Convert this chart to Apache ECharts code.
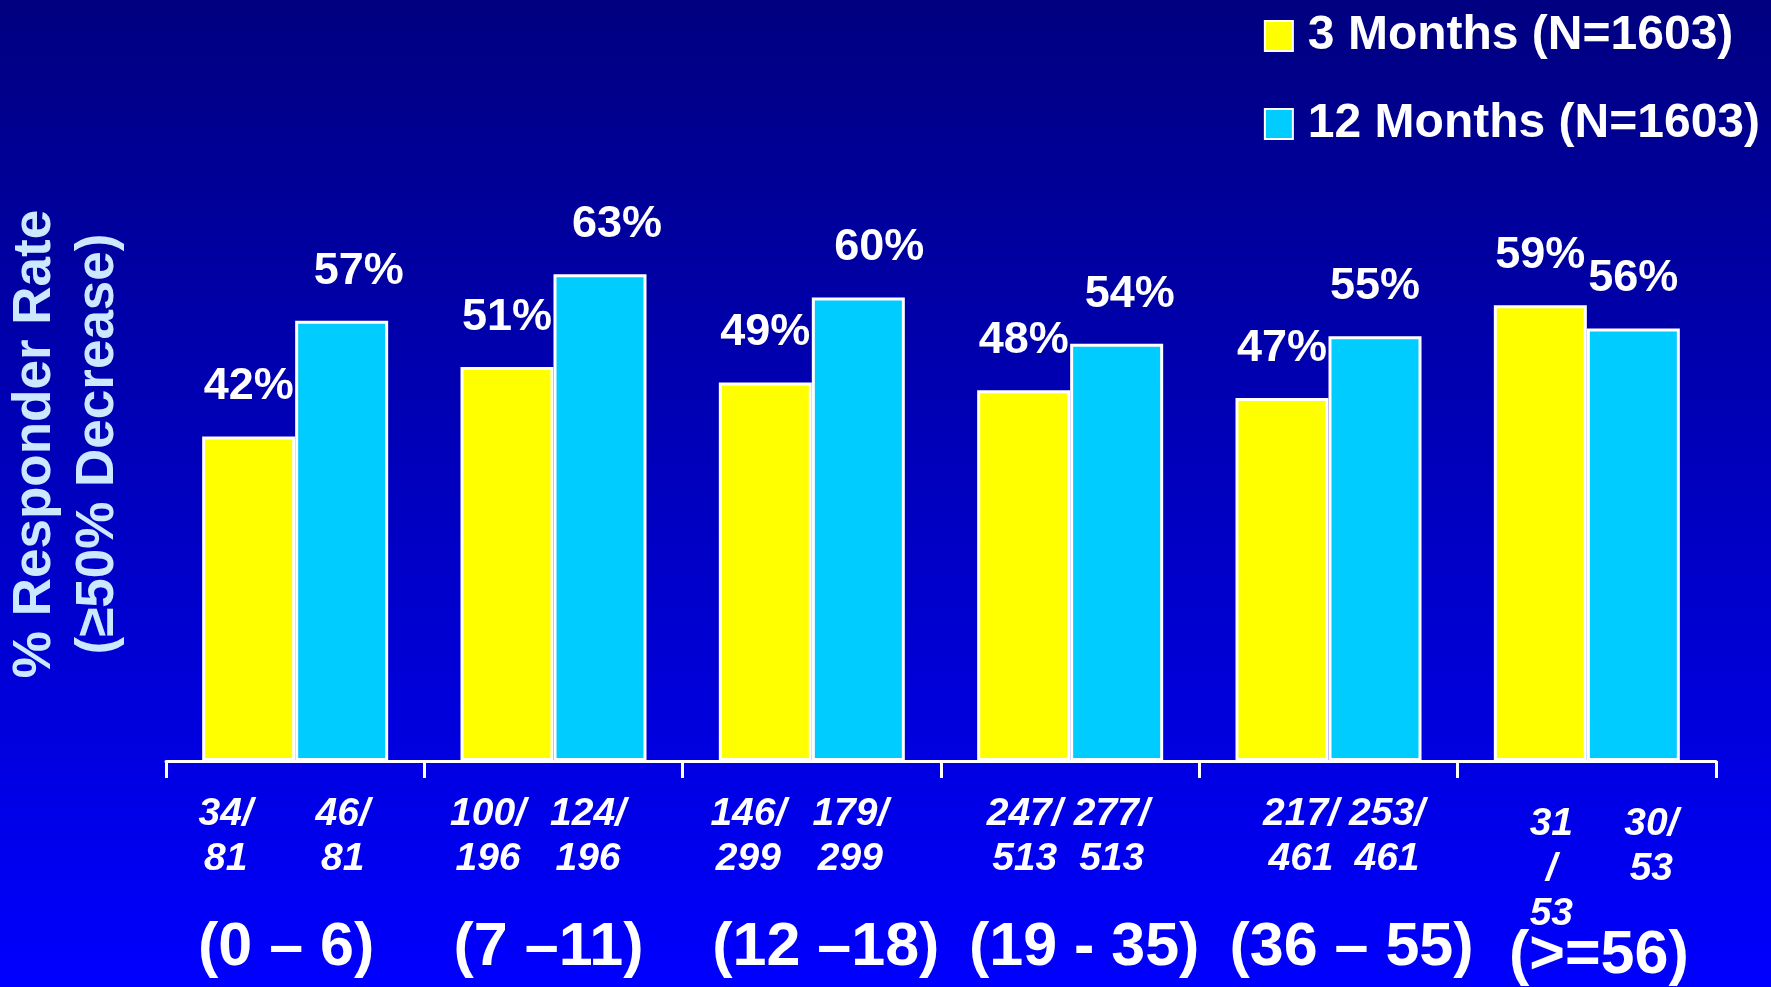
<!DOCTYPE html>
<html>
<head>
<meta charset="utf-8">
<title>% Responder Rate by Baseline Seizure Frequency</title>
<script src="https://cdn.jsdelivr.net/npm/echarts@6/dist/echarts.min.js"></script>
<style>
  html, body { margin: 0; padding: 0; width: 100%; height: 100%; overflow: hidden; background: #000080; }
  #chart { width: 1771px; height: 987px; }
</style>
</head>
<body>
<div id="chart"></div>
<script>
// Baseline groups on the category axis
const groups = ['(0 – 6)', '(7 –11)', '(12 –18)', '(19 - 35)', '(36 – 55)', '(>=56)'];

// Responder rates (%)
const rate3Months = [42, 51, 49, 48, 47, 59];
const rate12Months = [57, 63, 60, 54, 55, 56];

// Responders / patients in each group, printed under each bar
const count3Months = ['34/\n81', '100/\n196', '146/\n299', '247/\n513', '217/\n461', '31\n/\n53'];
const count12Months = ['46/\n81', '124/\n196', '179/\n299', '277/\n513', '253/\n461', '30/\n53'];

const seriesNames = ['3 Months (N=1603)', '12 Months (N=1603)'];
const yTitle = '% Responder Rate\n(≥50% Decrease)';

// Hand placement of the text boxes next to their bars (px nudges)
const valueNudge12 = [[17, 0], [17, 0], [21, 0], [13, 0], [0, 0], [0, 0]];
const countNudge3 = [[-23, 0], [-19, 0], [-17, 0], [1, 0], [19, 0], [11, 10]];
const countNudge12 = [[1, 0], [-12, 0], [-8, 0], [-5, 0], [12, 0], [18, 10]];
const groupNudge = [[-9, 0], [-5, 0], [14, 0], [14, 0], [23, 0], [12, 8]];

const YELLOW = '#ffff00';
const CYAN = '#00ccff';
const SANS = '"Liberation Sans", Arial, sans-serif';

const chart = echarts.init(document.getElementById('chart'), null, { renderer: 'canvas' });

const valueLabel = {
  show: true,
  position: 'top',
  distance: 27,
  color: '#ffffff',
  fontFamily: SANS,
  fontWeight: 'bold',
  fontSize: 45,
  formatter: p => p.value + '%'
};

function rateSeries(name, color, values, nudges) {
  return {
    type: 'bar',
    name: name,
    barGap: '0%',
    barCategoryGap: '28%',
    itemStyle: { color: color, borderColor: '#ffffff', borderWidth: 3 },
    label: valueLabel,
    data: values.map((v, i) => nudges ? { value: v, label: { offset: nudges[i] } } : v)
  };
}

function countSeries(name, values, labels, nudges) {
  return {
    type: 'bar',
    name: name + ' n',
    xAxisIndex: 1,
    barGap: '0%',
    barCategoryGap: '28%',
    silent: true,
    legendHoverLink: false,
    itemStyle: { color: 'rgba(0,0,0,0)' },
    label: {
      show: true,
      position: 'bottom',
      distance: 31,
      color: '#ffffff',
      fontFamily: SANS,
      fontWeight: 'bold',
      fontStyle: 'italic',
      fontSize: 39,
      lineHeight: 45,
      align: 'center',
      formatter: p => labels[p.dataIndex]
    },
    data: values.map((v, i) => ({ value: v, label: { offset: nudges[i] } }))
  };
}

// Shift a centred axis label sideways / down through its padding
function groupLabelPadding(n) {
  const dx = n[0];
  return [n[1], dx < 0 ? -2 * dx : 0, 0, dx > 0 ? 2 * dx : 0];
}

chart.setOption({
  animation: false,
  backgroundColor: {
    type: 'linear', x: 0, y: 0, x2: 0, y2: 1,
    colorStops: [
      { offset: 0, color: '#000080' },
      { offset: 1, color: '#0000ff' }
    ]
  },
  grid: { left: 166, right: 55, top: 143, bottom: 225 },
  legend: {
    data: seriesNames,
    orient: 'vertical',
    align: 'left',
    right: 6,
    top: 6,
    itemWidth: 28,
    itemHeight: 30,
    itemGap: 38,
    icon: 'rect',
    textStyle: {
      color: '#ffffff',
      fontFamily: SANS,
      fontWeight: 'bold',
      fontSize: 48,
      lineHeight: 50,
      padding: [0, 0, 0, 10]
    }
  },
  xAxis: [
    {
      type: 'category',
      data: groups.map((g, i) => ({ value: g, textStyle: { padding: groupLabelPadding(groupNudge[i]) } })),
      axisLine: { show: true, lineStyle: { color: '#ffffff', width: 3 } },
      axisTick: { show: true, length: 17, lineStyle: { color: '#ffffff', width: 3 } },
      axisLabel: {
        interval: 0,
        margin: 156,
        color: '#ffffff',
        fontFamily: SANS,
        fontWeight: 'bold',
        fontSize: 61,
        lineHeight: 62
      }
    },
    { type: 'category', data: groups, show: false }
  ],
  yAxis: [
    { type: 'value', min: 0, max: 80, show: false }
  ],
  graphic: [
    {
      type: 'text',
      x: 67,
      y: 444,
      rotation: Math.PI / 2,
      style: {
        text: yTitle,
        fill: '#cce8ff',
        font: 'bold 53px ' + SANS,
        lineHeight: 63,
        textAlign: 'center',
        textVerticalAlign: 'middle'
      }
    }
  ],
  series: [
    rateSeries(seriesNames[0], YELLOW, rate3Months, null),
    rateSeries(seriesNames[1], CYAN, rate12Months, valueNudge12),
    countSeries(seriesNames[0], rate3Months, count3Months, countNudge3),
    countSeries(seriesNames[1], rate12Months, count12Months, countNudge12)
  ]
});
</script>
</body>
</html>
